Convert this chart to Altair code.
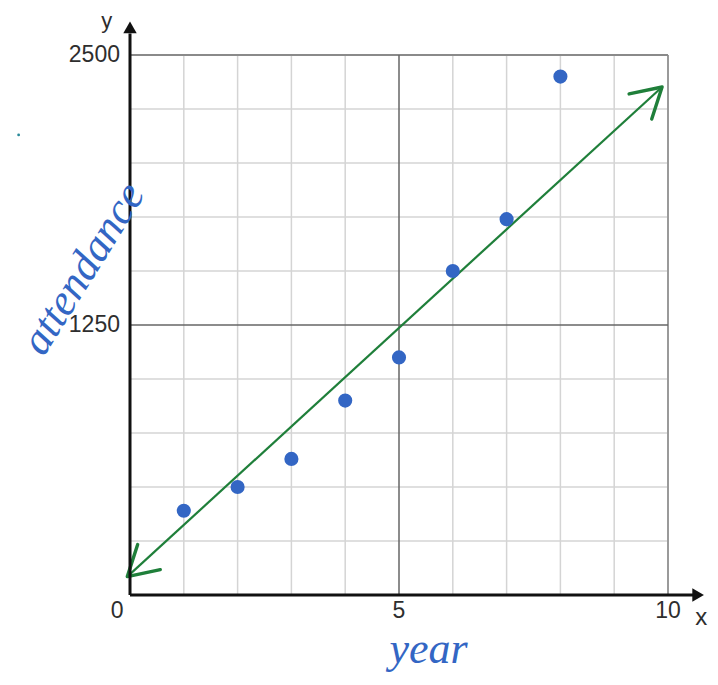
import altair as alt
import pandas as pd

# data
years = [1, 2, 3, 4, 5, 6, 7, 8]
attendance = [390, 500, 630, 900, 1100, 1500, 1740, 2400]

# hand-drawn trend line (endpoints of the arrowed line)
trend_x = [-0.05, 9.89]
trend_y = [85, 2352]
trend_angle = [138, 318]   # arrow-head directions (degrees, clockwise)

x_grid = [1, 2, 3, 4, 6, 7, 8, 9]
y_grid = [250, 500, 750, 1000, 1500, 1750, 2000, 2250]
x_mid, y_mid = [5], [1250]
x_edge, y_edge = [10], [2500]

x_tick_vals = [-0.24, 5, 10]
x_tick_text = ["0", "5", "10"]
y_tick_vals = [1250, 2500]
y_tick_text = ["1250", "2500"]

XS = alt.Scale(domain=[0, 10], nice=False, zero=False)
YS = alt.Scale(domain=[0, 2500], nice=False, zero=False)


def X(f):
    return alt.X(f, type="quantitative", scale=XS, axis=None)


def Y(f):
    return alt.Y(f, type="quantitative", scale=YS, axis=None)


def vrules(vals, color, w, y0=0, y1=2500):
    df = pd.DataFrame({"v": vals, "a": [y0] * len(vals), "b": [y1] * len(vals)})
    return alt.Chart(df).mark_rule(color=color, strokeWidth=w).encode(
        x=X("v"), y=Y("a"), y2="b:Q")


def hrules(vals, color, w, x0=0, x1=10):
    df = pd.DataFrame({"v": vals, "a": [x0] * len(vals), "b": [x1] * len(vals)})
    return alt.Chart(df).mark_rule(color=color, strokeWidth=w).encode(
        y=Y("v"), x=X("a"), x2="b:Q")


def pt(x, y):
    return pd.DataFrame({"x": [x], "y": [y]})


vgrid = vrules(x_grid, "#d4d4d4", 1.5)
hgrid = hrules(y_grid, "#d4d4d4", 1.5)
vmid = vrules(x_mid, "#666666", 1.5)
hmid = hrules(y_mid, "#666666", 1.5)
vedge = vrules(x_edge, "#9a9a9a", 2)
hedge = hrules(y_edge, "#8a8a8a", 2)

# black axes with arrows
yaxis = vrules([0], "#111111", 3, 0, 2600)
xaxis = hrules([0], "#111111", 3, 0, 10.5)
yarrow = alt.Chart(pt(0, 2628)).mark_point(shape="triangle-up", filled=True, color="#111111",
                                            size=180, opacity=1).encode(x=X("x"), y=Y("y"))
xarrow = alt.Chart(pt(10.56, 0)).mark_point(shape="triangle-right", filled=True, color="#111111",
                                             size=180, opacity=1).encode(x=X("x"), y=Y("y"))

# tick labels
xlab = alt.Chart(pd.DataFrame({"x": x_tick_vals, "y": [0] * 3, "t": x_tick_text})).mark_text(
    font="Liberation Sans", fontSize=23, color="#2e2e2e", baseline="middle", align="center", dy=16
).encode(x=X("x"), y=Y("y"), text="t:N")
ylab = alt.Chart(pd.DataFrame({"y": y_tick_vals, "x": [0] * 2, "t": y_tick_text})).mark_text(
    font="Liberation Sans", fontSize=23, color="#2e2e2e", baseline="middle", align="right", dx=-10
).encode(x=X("x"), y=Y("y"), text="t:N")
ytitle = alt.Chart(pt(-0.43, 2656)).mark_text(
    font="Liberation Sans", fontSize=22, color="#2e2e2e", baseline="middle", text="y"
).encode(x=X("x"), y=Y("y"))
xtitle = alt.Chart(pt(10.62, -105)).mark_text(
    font="Liberation Sans", fontSize=24, color="#2e2e2e", baseline="middle", text="x"
).encode(x=X("x"), y=Y("y"))

# handwritten labels
att = alt.Chart(pt(-0.86, 1510)).mark_text(
    font="Liberation Serif", fontStyle="italic", fontSize=44, color="#3366c4",
    angle=302, baseline="middle", align="center", text="attendance"
).encode(x=X("x"), y=Y("y"))
yr = alt.Chart(pt(5.55, -255)).mark_text(
    font="Liberation Serif", fontStyle="italic", fontSize=44, color="#3366c4",
    baseline="middle", align="center", text="year"
).encode(x=X("x"), y=Y("y"))
speck = alt.Chart(pt(-2.07, 2130)).mark_circle(color="#2a8a9a", size=8, opacity=1).encode(
    x=X("x"), y=Y("y"))

# trend line + arrow heads
tdf = pd.DataFrame({"x": trend_x, "y": trend_y, "a": trend_angle})
tline = alt.Chart(tdf).mark_line(color="#1f7f3a", strokeWidth=2.2).encode(x=X("x"), y=Y("y"))
theads = alt.Chart(tdf).mark_point(
    shape="M-1,-0.58L0,0L-1,0.58", filled=False, color="#1f7f3a", strokeWidth=3.4, size=3400,
    opacity=1, strokeCap="round", strokeJoin="round"
).encode(x=X("x"), y=Y("y"), angle=alt.Angle("a:Q", scale=None))

pts = alt.Chart(pd.DataFrame({"year": years, "attendance": attendance})).mark_circle(
    color="#3366c4", size=200, opacity=1).encode(x=X("year"), y=Y("attendance"))

chart = alt.layer(
    vgrid, hgrid, vedge, hedge, vmid, hmid, tline, theads, pts,
    yaxis, xaxis, yarrow, xarrow, xlab, ylab, ytitle, xtitle, att, yr, speck
).properties(
    width=538, height=540,
    autosize=alt.AutoSizeParams(type="none"),
    padding={"left": 122, "top": 47, "right": 40, "bottom": 82},
).configure_view(stroke=None)

chart.save("out.html", embed_options={"renderer": "svg", "actions": False})
